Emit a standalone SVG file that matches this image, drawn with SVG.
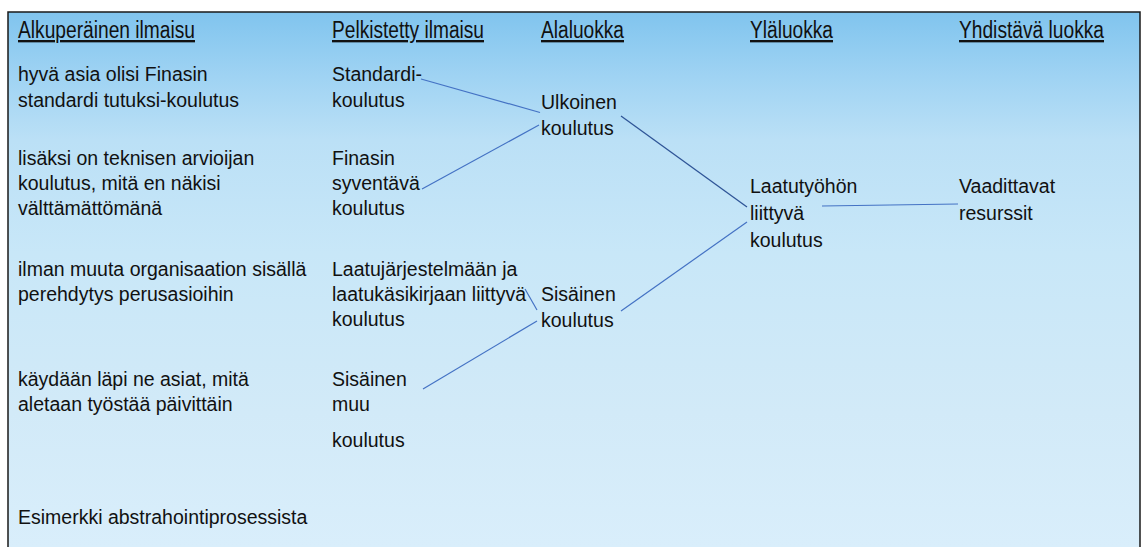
<svg xmlns="http://www.w3.org/2000/svg" width="1141" height="547" viewBox="0 0 1141 547">
  <defs>
    <linearGradient id="bg" gradientUnits="userSpaceOnUse" x1="0" y1="12" x2="0" y2="547">
      <stop offset="0" stop-color="#80c4ee"/>
      <stop offset="0.12" stop-color="#9fd3f3"/>
      <stop offset="0.24" stop-color="#bbe0f6"/>
      <stop offset="0.45" stop-color="#c8e7f8"/>
      <stop offset="0.75" stop-color="#d2eaf8"/>
      <stop offset="1" stop-color="#d9eefb"/>
    </linearGradient>
    <style>
      .h { font-family: "Liberation Sans", Arial, sans-serif; font-size: 23.5px; fill: #111; text-decoration: underline; }
      .t { font-family: "Liberation Sans", Arial, sans-serif; font-size: 19.5px; fill: #111; }
      .c { stroke: #4472c4; stroke-width: 1.2; fill: none; }
      .d { stroke: #2f5597; stroke-width: 1.3; fill: none; }
    </style>
  </defs>
  <rect x="0" y="0" width="1141" height="547" fill="#ffffff"/>
  <rect x="8" y="12" width="1132" height="540" fill="url(#bg)"/>
  <path d="M8 547 V12 H1140 V547" stroke="#1a1a1a" stroke-width="1.5" fill="none"/>

  <g id="headers">
    <text class="h" x="18" y="38" textLength="177" lengthAdjust="spacingAndGlyphs">Alkuperäinen ilmaisu</text>
    <text class="h" x="332" y="38" textLength="152" lengthAdjust="spacingAndGlyphs">Pelkistetty ilmaisu</text>
    <text class="h" x="541" y="38" textLength="83" lengthAdjust="spacingAndGlyphs">Alaluokka</text>
    <text class="h" x="750" y="38" textLength="83" lengthAdjust="spacingAndGlyphs">Yläluokka</text>
    <text class="h" x="959" y="38" textLength="145" lengthAdjust="spacingAndGlyphs">Yhdistävä luokka</text>
  </g>

  <g id="orig1"><text class="t" x="18" y="81">hyvä asia olisi Finasin</text><text class="t" x="18" y="107">standardi tutuksi-koulutus</text></g>
  <g id="orig2"><text class="t" x="18" y="165">lisäksi on teknisen arvioijan</text><text class="t" x="18" y="190">koulutus, mitä en näkisi</text><text class="t" x="18" y="215">välttämättömänä</text></g>
  <g id="orig3"><text class="t" x="18" y="276">ilman muuta organisaation sisällä</text><text class="t" x="18" y="301">perehdytys perusasioihin</text></g>
  <g id="orig4"><text class="t" x="18" y="386">käydään läpi ne asiat, mitä</text><text class="t" x="18" y="411">aletaan työstää päivittäin</text></g>

  <g id="simp1"><text class="t" x="332" y="81">Standardi-</text><text class="t" x="332" y="107">koulutus</text></g>
  <g id="simp2"><text class="t" x="332" y="165">Finasin</text><text class="t" x="332" y="190">syventävä</text><text class="t" x="332" y="215">koulutus</text></g>
  <g id="simp3"><text class="t" x="332" y="276">Laatujärjestelmään ja</text><text class="t" x="332" y="301">laatukäsikirjaan liittyvä</text><text class="t" x="332" y="326">koulutus</text></g>
  <g id="simp4"><text class="t" x="332" y="386">Sisäinen</text><text class="t" x="332" y="411">muu</text><text class="t" x="332" y="447">koulutus</text></g>

  <g id="sub1"><text class="t" x="541" y="109">Ulkoinen</text><text class="t" x="541" y="135">koulutus</text></g>
  <g id="sub2"><text class="t" x="541" y="301">Sisäinen</text><text class="t" x="541" y="327">koulutus</text></g>

  <g id="upper"><text class="t" x="750" y="193">Laatutyöhön</text><text class="t" x="750" y="220">liittyvä</text><text class="t" x="750" y="247">koulutus</text></g>
  <g id="main"><text class="t" x="959" y="193">Vaadittavat</text><text class="t" x="959" y="220">resurssit</text></g>

  <g id="caption"><text class="t" x="18" y="524">Esimerkki abstrahointiprosessista</text></g>

  <g id="connectors">
    <line class="c" x1="421" y1="79" x2="540" y2="112.5"/>
    <line class="c" x1="422" y1="189" x2="539" y2="125"/>
    <line class="d" x1="621" y1="116" x2="747" y2="207"/>
    <line class="c" x1="747" y1="222" x2="621" y2="311"/>
    <line class="c" x1="525" y1="289" x2="537" y2="310"/>
    <line class="c" x1="423" y1="389" x2="537" y2="321"/>
    <line class="c" x1="822" y1="206" x2="958" y2="204"/>
  </g>
</svg>
